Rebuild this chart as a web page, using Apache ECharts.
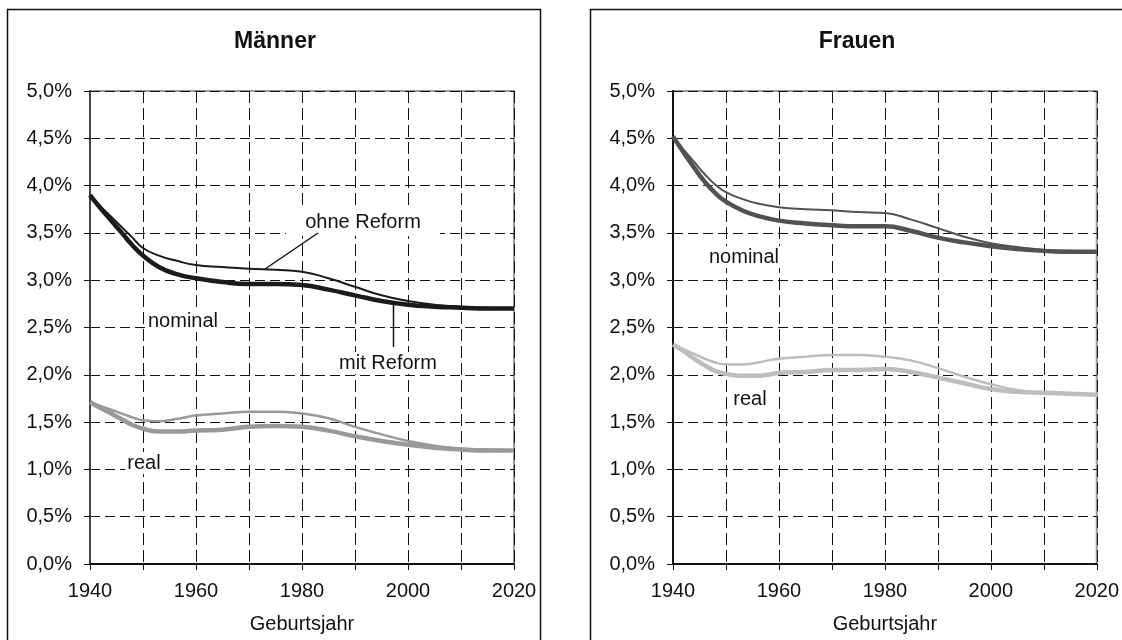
<!DOCTYPE html>
<html>
<head>
<meta charset="utf-8">
<script src="https://cdn.jsdelivr.net/npm/echarts@6/dist/echarts.min.js"></script>
<style>
  html, body { margin: 0; padding: 0; background: #fff; }
  #chart { width: 1122px; height: 640px; }
</style>
</head>
<body>
<div id="chart"></div>
<script>
// Geburtsjahr
const years = [1940, 1942, 1944, 1946, 1948, 1950, 1953, 1956, 1960, 1965, 1970, 1975, 1980, 1985, 1990, 1995, 2000, 2005, 2010, 2015, 2020]
const yearLabels = [1940, 1960, 1980, 2000, 2020]

// Männer, in %
const menNominalWith    = [3.90, 3.76, 3.63, 3.50, 3.37, 3.26, 3.14, 3.07, 3.02, 2.98, 2.96, 2.96, 2.95, 2.90, 2.84, 2.78, 2.74, 2.72, 2.71, 2.70, 2.70]
const menNominalWithout = [3.90, 3.78, 3.67, 3.56, 3.45, 3.34, 3.26, 3.21, 3.16, 3.14, 3.12, 3.11, 3.09, 3.02, 2.93, 2.84, 2.78, 2.74, 2.72, 2.71, 2.70]
const menRealWith       = [1.71, 1.65, 1.59, 1.53, 1.47, 1.43, 1.40, 1.40, 1.41, 1.42, 1.45, 1.46, 1.45, 1.41, 1.35, 1.30, 1.26, 1.23, 1.21, 1.20, 1.20]
const menRealWithout    = [1.71, 1.67, 1.63, 1.59, 1.55, 1.52, 1.51, 1.53, 1.57, 1.59, 1.61, 1.61, 1.59, 1.54, 1.45, 1.37, 1.30, 1.25, 1.22, 1.21, 1.20]

// Frauen, in %
const womenNominalWith    = [4.52, 4.35, 4.19, 4.04, 3.92, 3.83, 3.74, 3.68, 3.63, 3.60, 3.58, 3.57, 3.57, 3.52, 3.45, 3.40, 3.36, 3.33, 3.31, 3.30, 3.30]
const womenNominalWithout = [4.52, 4.38, 4.25, 4.12, 4.01, 3.93, 3.86, 3.81, 3.77, 3.75, 3.74, 3.72, 3.71, 3.64, 3.55, 3.46, 3.39, 3.35, 3.32, 3.31, 3.30]
const womenRealWith       = [2.32, 2.25, 2.17, 2.10, 2.04, 2.01, 1.99, 1.99, 2.02, 2.03, 2.05, 2.05, 2.06, 2.03, 1.97, 1.91, 1.85, 1.82, 1.81, 1.80, 1.79]
const womenRealWithout    = [2.32, 2.27, 2.22, 2.17, 2.13, 2.11, 2.11, 2.13, 2.17, 2.19, 2.21, 2.21, 2.19, 2.15, 2.07, 1.98, 1.90, 1.84, 1.81, 1.80, 1.79]

const FONT = '"Liberation Sans", Arial, sans-serif'

function pairs(values) {
  return years.map((y, i) => [y, values[i]])
}

function xAxisFor(gridIndex) {
  return {
    type: 'value',
    gridIndex: gridIndex,
    min: 1940,
    max: 2020,
    interval: 10,
    name: 'Geburtsjahr',
    nameLocation: 'middle',
    nameGap: 50,
    nameTextStyle: { color: '#111', fontSize: 20, fontFamily: FONT },
    axisLine: { show: true, onZero: false, lineStyle: { color: '#111', width: 2 } },
    axisTick: { show: true, length: 6, lineStyle: { color: '#111', width: 1 } },
    axisLabel: {
      color: '#111',
      fontSize: 20,
      fontFamily: FONT,
      margin: 17,
      formatter: v => (yearLabels.includes(v) ? String(v) : '')
    },
    splitLine: { show: true, lineStyle: { color: '#111', width: 1, type: [12, 5] } }
  }
}

function yAxisFor(gridIndex, axisColor) {
  return {
    type: 'value',
    gridIndex: gridIndex,
    min: 0,
    max: 5,
    interval: 0.5,
    axisLine: { show: true, onZero: false, lineStyle: { color: axisColor, width: 2 } },
    axisTick: { show: true, length: 6, lineStyle: { color: '#111', width: 1 } },
    axisLabel: {
      color: '#111',
      fontSize: 20,
      fontFamily: FONT,
      margin: 18,
      formatter: v => v.toFixed(1).replace('.', ',') + '%'
    },
    splitLine: { show: true, lineStyle: { color: '#111', width: 1, type: [10, 5] } }
  }
}

function line(name, gridIndex, values, color, width) {
  return {
    name: name,
    type: 'line',
    xAxisIndex: gridIndex,
    yAxisIndex: gridIndex,
    data: pairs(values),
    smooth: 0.5,
    showSymbol: false,
    symbol: 'none',
    silent: true,
    lineStyle: { color: color, width: width }
  }
}

function label(text, x, y, withBg) {
  return {
    type: 'text',
    z: 100,
    x: x,
    y: y,
    style: {
      text: text,
      fill: '#111',
      font: '20px ' + FONT,
      align: 'center',
      verticalAlign: 'middle',
      backgroundColor: withBg ? '#fff' : null,
      padding: withBg ? [1, 2] : 0
    }
  }
}

const chart = echarts.init(document.getElementById('chart'), null, { renderer: 'canvas' })

const option = {
  backgroundColor: '#fff',
  animation: false,
  grid: [
    { left: 90, top: 91, width: 424, height: 473, show: true, borderColor: '#999', borderWidth: 2, backgroundColor: 'transparent' },
    { left: 673, top: 91, width: 424, height: 473, show: true, borderColor: '#999', borderWidth: 2, backgroundColor: 'transparent' }
  ],
  xAxis: [xAxisFor(0), xAxisFor(1)],
  yAxis: [yAxisFor(0, '#444'), yAxisFor(1, '#111')],
  series: [
    line('Männer nominal mit Reform', 0, menNominalWith, '#1a1a1a', 4.5),
    line('Männer nominal ohne Reform', 0, menNominalWithout, '#1a1a1a', 2),
    line('Männer real mit Reform', 0, menRealWith, '#999999', 4.5),
    line('Männer real ohne Reform', 0, menRealWithout, '#999999', 2.5),
    line('Frauen nominal mit Reform', 1, womenNominalWith, '#525252', 4.5),
    line('Frauen nominal ohne Reform', 1, womenNominalWithout, '#525252', 2),
    line('Frauen real mit Reform', 1, womenRealWith, '#bdbdbd', 4.5),
    line('Frauen real ohne Reform', 1, womenRealWithout, '#bdbdbd', 2.5)
  ],
  graphic: [
    // panel frames
    { type: 'rect', z: 50, shape: { x: 7.5, y: 9.5, width: 533, height: 640 }, style: { fill: null, stroke: '#111', lineWidth: 1.5 } },
    { type: 'rect', z: 50, shape: { x: 590.5, y: 9.5, width: 533, height: 640 }, style: { fill: null, stroke: '#111', lineWidth: 1.5 } },
    // titles
    { type: 'text', z: 100, x: 275, y: 42, style: { text: 'Männer', fill: '#111', font: 'bold 23px ' + FONT, align: 'center', verticalAlign: 'middle' } },
    { type: 'text', z: 100, x: 857, y: 42, style: { text: 'Frauen', fill: '#111', font: 'bold 23px ' + FONT, align: 'center', verticalAlign: 'middle' } },
    // annotations Männer
    {
      type: 'rect', z: 90, shape: { x: 286, y: 209, width: 154, height: 27 }, style: { fill: '#fff' }
    },
    label('ohne Reform', 363, 222, false),
    { type: 'line', z: 100, shape: { x1: 318, y1: 233, x2: 265, y2: 269 }, style: { stroke: '#111', lineWidth: 1.5 } },
    { type: 'line', z: 100, shape: { x1: 393.5, y1: 303, x2: 393.5, y2: 347 }, style: { stroke: '#111', lineWidth: 1.5 } },
    label('mit Reform', 388, 363, true),
    label('nominal', 183, 321, true),
    label('real', 144, 463, true),
    // annotations Frauen
    label('nominal', 744, 257, true),
    label('real', 750, 399, true)
  ]
}

chart.setOption(option)
</script>
</body>
</html>
